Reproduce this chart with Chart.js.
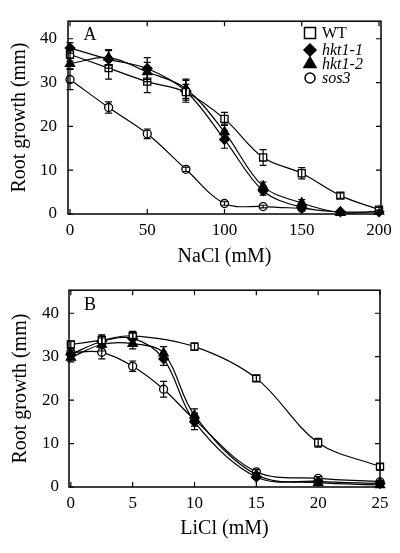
<!DOCTYPE html>
<html><head><meta charset="utf-8">
<script src="https://cdn.jsdelivr.net/npm/chart.js@4/dist/chart.umd.min.js"></script>
<style>
html,body{margin:0;padding:0;background:#fff;}
#wrap{position:relative;width:400px;height:553px;background:#fff;}
#cA{position:absolute;left:0;top:0;}
#cB{position:absolute;left:0;top:270px;}
</style></head><body>
<div id="wrap">
<canvas id="cA" width="400" height="270"></canvas>
<canvas id="cB" width="400" height="283"></canvas>
</div>
<script>
// ---- data ----
const seriesNames = ['WT', 'hkt1-1', 'hkt1-2', 'sos3'];
const yTicks = [0, 10, 20, 30, 40];
const naTicks = [0, 50, 100, 150, 200];
const liTicks = [0, 5, 10, 15, 20, 25];

const naclConc   = [0, 25, 50, 75, 100, 125, 150, 175, 200];
const naWT       = [36.4, 33.3, 30.2, 27.8, 21.7, 12.9, 9.3, 4.2, 1.0];
const naWTErr    = [1.5, 2.5, 2.5, 1.8, 1.5, 1.8, 1.3, 0.6, 0.5];
const naHkt11    = [37.9, 35.3, 33.2, 28.0, 17.0, 5.3, 1.5, 0.5, 0.5];
const naHkt11Err = [1.2, 2.0, 2.5, 2.5, 2.0, 1.0, 0.5, 0.3, 0.3];
const naHkt12    = [34.3, 35.7, 32.4, 28.6, 18.7, 6.3, 2.5, 0.3, 0.6];
const naHkt12Err = [1.2, 1.8, 2.2, 2.2, 1.8, 1.0, 0.8, 0.3, 0.3];
const naSos3     = [30.7, 24.3, 18.3, 10.2, 2.4, 1.7, 1.3, null, null];
const naSos3Err  = [2.3, 1.3, 1.1, 0.5, 0.4, 0.3, 0.3, null, null];

const liclConc   = [0, 2.5, 5, 7.5, 10, 15, 20, 25];
const liWT       = [32.8, 33.8, 34.8, null, 32.3, 25.0, 10.2, 4.7];
const liWTErr    = [0.8, 1.0, 1.0, null, 0.8, 0.7, 1.0, 0.7];
const liHkt11    = [30.5, 33.5, 34.2, 29.5, 15.0, 2.3, 1.3, 0.8];
const liHkt11Err = [1.0, 1.5, 1.2, 1.5, 1.8, 0.5, 0.3, 0.3];
const liHkt12    = [29.8, 32.8, 33.0, 30.8, 16.5, 2.8, 1.0, 0.5];
const liHkt12Err = [1.0, 1.5, 1.2, 1.5, 1.5, 0.5, 0.3, 0.3];
const liSos3     = [31.0, 31.0, 27.8, 22.5, 15.5, 3.5, 2.0, 1.2];
const liSos3Err  = [1.0, 1.5, 1.2, 1.8, 1.5, 0.5, 0.4, 0.3];

// ---- styles ----
const SERIF = "'Liberation Serif', 'Times New Roman', serif";
const markerStyles = [
  {pointStyle: 'rect', radius: 5, fill: '#fff', legendRadius: 7.8},
  {pointStyle: 'rectRot', radius: 4.8, fill: '#000', legendRadius: 6},
  {pointStyle: 'triangle', radius: 5.3, fill: '#000', legendRadius: 7},
  {pointStyle: 'circle', radius: 4, fill: '#fff', legendRadius: 5}
];

function makeDataset(idx, xs, ys, errs) {
  const pts = [], e = [];
  xs.forEach((x, i) => { if (ys[i] !== null) { pts.push({x: x, y: ys[i]}); e.push(errs[i]); } });
  const m = markerStyles[idx];
  return {
    label: seriesNames[idx], data: pts, errs: e,
    borderColor: '#000', borderWidth: 1.2, fill: false,
    tension: 0.35,
    pointStyle: m.pointStyle, pointRadius: m.radius, pointBackgroundColor: m.fill,
    pointBorderColor: '#000', pointBorderWidth: 1.3, clip: false
  };
}

const errorBars = {
  id: 'errorBars',
  afterDatasetsDraw(chart) {
    const {ctx, scales: {x, y}} = chart;
    ctx.save(); ctx.strokeStyle = '#000'; ctx.lineWidth = 1.2;
    chart.data.datasets.forEach(ds => {
      ds.data.forEach((p, j) => {
        const e = ds.errs[j]; if (!e) return;
        const px = x.getPixelForValue(p.x);
        const y1 = y.getPixelForValue(p.y + e), y2 = y.getPixelForValue(Math.max(0, p.y - e));
        ctx.beginPath();
        ctx.moveTo(px, y1); ctx.lineTo(px, y2);
        ctx.moveTo(px - 3.5, y1); ctx.lineTo(px + 3.5, y1);
        ctx.moveTo(px - 3.5, y2); ctx.lineTo(px + 3.5, y2);
        ctx.stroke();
      });
    });
    ctx.restore();
  }
};

const frame = {
  id: 'frame',
  afterDraw(chart, args, opts) {
    const {ctx, chartArea: a, scales: {x, y}} = chart;
    ctx.save(); ctx.strokeStyle = '#000'; ctx.lineWidth = 1.5;
    ctx.strokeRect(a.left, a.top, a.right - a.left, a.bottom - a.top);
    ctx.lineWidth = 1.2; const tl = 5;
    ctx.beginPath();
    x.ticks.forEach(t => { const px = x.getPixelForValue(t.value);
      ctx.moveTo(px, a.bottom); ctx.lineTo(px, a.bottom - tl);
      ctx.moveTo(px, a.top); ctx.lineTo(px, a.top + tl); });
    y.ticks.forEach(t => { const py = y.getPixelForValue(t.value);
      ctx.moveTo(a.left, py); ctx.lineTo(a.left + tl, py);
      ctx.moveTo(a.right, py); ctx.lineTo(a.right - tl, py); });
    ctx.stroke();
    // panel letter
    ctx.fillStyle = '#000'; ctx.font = '18px ' + SERIF;
    ctx.textAlign = 'center'; ctx.textBaseline = 'alphabetic';
    ctx.fillText(opts.letter, opts.letterX, opts.letterY);
    // legend
    if (opts.legend) {
      const rows = [33, 50, 64, 78];
      seriesNames.forEach((name, i) => {
        const m = markerStyles[i];
        ctx.fillStyle = m.fill; ctx.strokeStyle = '#000'; ctx.lineWidth = 1.5;
        Chart.helpers.drawPoint(ctx, {pointStyle: m.pointStyle, radius: m.legendRadius, rotation: 0, borderWidth: 1.5}, 310, rows[i]);
        ctx.fillStyle = '#000';
        ctx.font = (i === 0 ? '' : 'italic ') + '16px ' + SERIF;
        ctx.textAlign = 'left'; ctx.textBaseline = 'middle';
        ctx.fillText(name, 322, rows[i] + 1);
      });
    }
    ctx.restore();
  }
};

function makeChart(id, conf) {
  return new Chart(document.getElementById(id), {
    type: 'line',
    data: {datasets: conf.datasets},
    options: {
      responsive: false, animation: false, devicePixelRatio: 1,
      layout: {padding: conf.padding},
      plugins: {legend: {display: false}, tooltip: {enabled: false}, frame: conf.frameOpts},
      scales: {
        x: {
          type: 'linear', min: conf.xmin, max: conf.xmax,
          afterBuildTicks: s => { s.ticks = conf.xTicks.map(v => ({value: v})); },
          afterFit: s => { s.height = conf.xHeight; },
          grid: {display: false, drawTicks: false}, border: {display: false},
          ticks: {color: '#000', font: {family: SERIF, size: 17}, padding: 6, maxRotation: 0},
          title: {display: true, text: conf.xTitle, color: '#000', font: {family: SERIF, size: 20}, padding: {top: 0, bottom: conf.xTitlePad}}
        },
        y: {
          type: 'linear', min: 0, max: conf.ymax,
          afterBuildTicks: s => { s.ticks = yTicks.map(v => ({value: v})); },
          afterFit: s => { s.width = conf.yWidth; },
          grid: {display: false, drawTicks: false}, border: {display: false},
          ticks: {color: '#000', font: {family: SERIF, size: 17}, padding: conf.yTickPad},
          title: {display: true, text: 'Root growth (mm)', color: '#000', font: {family: SERIF, size: 20}, padding: {top: conf.yTitlePad, bottom: 0}}
        }
      }
    },
    plugins: [errorBars, frame]
  });
}

makeChart('cA', {
  datasets: [
    makeDataset(0, naclConc, naWT, naWTErr),
    makeDataset(1, naclConc, naHkt11, naHkt11Err),
    makeDataset(2, naclConc, naHkt12, naHkt12Err),
    makeDataset(3, naclConc, naSos3, naSos3Err)
  ],
  padding: {top: 13, right: 19, left: 0, bottom: 0},
  xmin: -1.3, xmax: 201.3, xTicks: naTicks, xHeight: 56, ymax: 44, yWidth: 68,
  xTitle: 'NaCl (mM)', xTitlePad: 1, yTitlePad: 8, yTickPad: 11,
  frameOpts: {letter: 'A', letterX: 90, letterY: 39.5, legend: true}
});

makeChart('cB', {
  datasets: [
    makeDataset(0, liclConc, liWT, liWTErr),
    makeDataset(1, liclConc, liHkt11, liHkt11Err),
    makeDataset(2, liclConc, liHkt12, liHkt12Err),
    makeDataset(3, liclConc, liSos3, liSos3Err)
  ],
  padding: {top: 14, right: 20, left: 0, bottom: 0},
  xmin: -0.15, xmax: 25, xTicks: liTicks, xHeight: 66, ymax: 45.3, yWidth: 69,
  xTitle: 'LiCl (mM)', xTitlePad: 12, yTitlePad: 9, yTickPad: 10,
  frameOpts: {letter: 'B', letterX: 90, letterY: 40, legend: false}
});
</script>
</body></html>
